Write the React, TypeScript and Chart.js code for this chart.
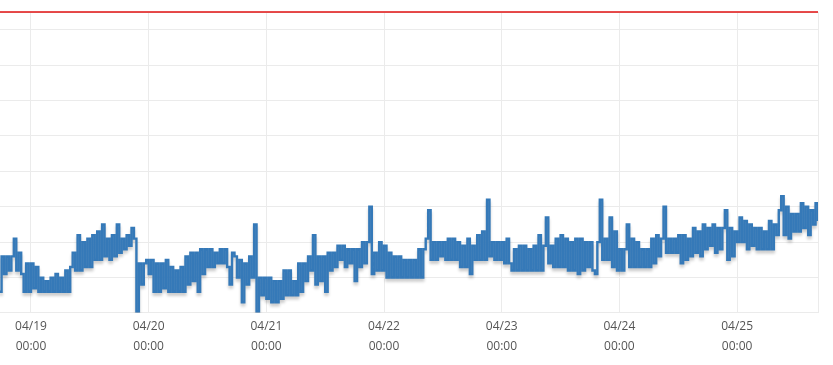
import React, { useEffect, useRef } from "react";
import { Chart, registerables } from "chart.js";

Chart.register(...registerables);

// Tick labels (one per day at 00:00)
const dayLabels = ["04/19", "04/20", "04/21", "04/22", "04/23", "04/24", "04/25"];
const timeLabel = "00:00";

// Half-hourly samples, one array per day (hours relative to 04/19 00:00)
const pre0418 = [6, 16, 11, 16, 12, 16, 21, 12, 17, 11, 6, 14, 6];
const day0419 = [14, 7, 13, 6, 10, 6, 9, 6, 10, 6, 11, 6, 10, 6, 12, 6, 13, 17, 12, 22, 12, 20, 13, 21, 13, 22, 15, 23, 15, 25, 16, 21, 15, 22, 16, 25, 17, 21, 18, 22, 19, 24, 21, 0.5, 14, 8, 14, 15];
const day0420 = [11, 15, 6, 14, 6, 14, 7, 15, 6, 13, 6, 12, 6, 13, 6, 16, 8, 17, 9, 17, 6, 18, 11, 18, 13, 18, 13, 17, 14, 18, 14, 18, 13, 8, 17, 16, 10, 15, 3, 14, 8, 16, 10, 25, 0.5, 10, 5, 10];
const day0421 = [4, 10, 3, 9, 3, 9, 4, 12, 5, 12, 5, 9, 5, 14, 6, 14, 9, 16, 12, 22, 8, 16, 9, 16, 6, 17, 12, 17, 13, 19, 15, 19, 13, 18, 14, 18, 9, 18, 13, 20, 14, 20, 30, 11, 17, 12, 20, 12];
const day0422 = [19, 10, 17, 10, 16, 10, 16, 10, 15, 10, 15, 10, 15, 10, 18, 10, 18, 21, 29, 15, 20, 15, 20, 16, 20, 15, 21, 15, 21, 15, 20, 13, 19, 13, 21, 11, 19, 15, 22, 15, 23, 15, 32, 16, 20, 15, 20, 15];
const day0423 = [20, 14, 21, 14, 12, 18, 12, 19, 12, 19, 12, 18, 12, 19, 12, 22, 12, 19, 27, 14, 19, 13, 21, 13, 22, 13, 21, 12, 20, 12, 21, 11, 21, 12, 20, 13, 20, 12, 11, 20, 32, 15, 21, 15, 27, 13, 23, 12];
const day0424 = [18, 12, 18, 25, 13, 21, 13, 20, 13, 18, 13, 18, 13, 21, 14, 22, 16, 21, 30, 17, 21, 17, 21, 17, 22, 14, 22, 15, 21, 16, 24, 17, 23, 16, 25, 18, 24, 19, 25, 17, 24, 18, 24, 29, 15, 24, 16, 23];
const day0425 = [20, 27, 20, 26, 18, 25, 19, 24, 18, 24, 18, 23, 18, 26, 18, 25, 22, 29, 33, 22, 30, 21, 28, 23, 28, 23, 31, 24, 30, 22, 29, 25, 31, 26];

const threshold = 85;
const xMinHours = -6.32;
const xMaxHours = 160.5;

function buildPoints() {
  const pts: { x: number; y: number }[] = [];
  pre0418.forEach((v, k) => pts.push({ x: -6.5 + 0.5 * k, y: v }));
  const days = [day0419, day0420, day0421, day0422, day0423, day0424, day0425];
  days.forEach((arr, d) => arr.forEach((v, k) => pts.push({ x: 24 * d + 0.5 * k, y: v })));
  return pts;
}

const shadowPlugin = {
  id: "lineShadow",
  beforeDatasetDraw(chart: any, args: any) {
    if (args.index === 0) {
      const ctx = chart.ctx;
      ctx.save();
      ctx.shadowColor = "rgba(0,0,0,0.2)";
      ctx.shadowBlur = 3;
      ctx.shadowOffsetX = 0;
      ctx.shadowOffsetY = 3;
    }
  },
  afterDatasetDraw(chart: any, args: any) {
    if (args.index === 0) chart.ctx.restore();
  },
};

export default function App() {
  const ref = useRef<HTMLCanvasElement | null>(null);
  useEffect(() => {
    document.body.style.margin = "0";
    if (!ref.current) return;
    const chart = new Chart(ref.current, {
      type: "line",
      data: {
        datasets: [
          {
            data: buildPoints(),
            borderColor: "#3579b8",
            borderWidth: 2.4,
            pointRadius: 0,
            stepped: true,
            fill: false,
            order: 1,
          },
          {
            data: [
              { x: xMinHours, y: threshold },
              { x: xMaxHours, y: threshold },
            ],
            borderColor: "#e01010",
            borderWidth: 1.5,
            pointRadius: 0,
            clip: false as any,
            fill: false,
            order: 0,
          },
        ],
      },
      options: {
        animation: false,
        responsive: false,
        maintainAspectRatio: false,
        parsing: false as any,
        layout: { padding: { left: 0, right: 15, top: 12, bottom: 4 } },
        plugins: { legend: { display: false }, tooltip: { enabled: false }, title: { display: false } },
        scales: {
          x: {
            type: "linear",
            min: xMinHours,
            max: xMaxHours,
            afterBuildTicks: (axis: any) => {
              axis.ticks = [0, 24, 48, 72, 96, 120, 144, xMaxHours].map((v) => ({ value: v }));
            },
            ticks: {
              autoSkip: false,
              maxRotation: 0,
              padding: 4,
              color: "#555",
              font: { family: "'Open Sans', sans-serif", size: 12, lineHeight: 1.667 },
              callback: (v: any) => {
                const d = Math.round(Number(v) / 24);
                if (Number(v) % 24 !== 0 || d < 0 || d >= dayLabels.length) return "";
                return [dayLabels[d], timeLabel];
              },
            },
            grid: { color: "#ebebeb", lineWidth: 1, drawTicks: false },
            border: { display: false },
          },
          y: {
            type: "linear",
            min: 0,
            max: threshold,
            ticks: { display: false, stepSize: 10 },
            grid: { color: "#ebebeb", lineWidth: 1, drawTicks: false },
            border: { display: false },
          },
        },
      },
      plugins: [shadowPlugin],
    });
    return () => chart.destroy();
  }, []);
  return (
    <div style={{ position: "absolute", left: 0, top: 0, width: 833, height: 365, background: "#fff" }}>
      <canvas ref={ref} width={833} height={365} style={{ width: 833, height: 365, display: "block" }} />
    </div>
  );
}
